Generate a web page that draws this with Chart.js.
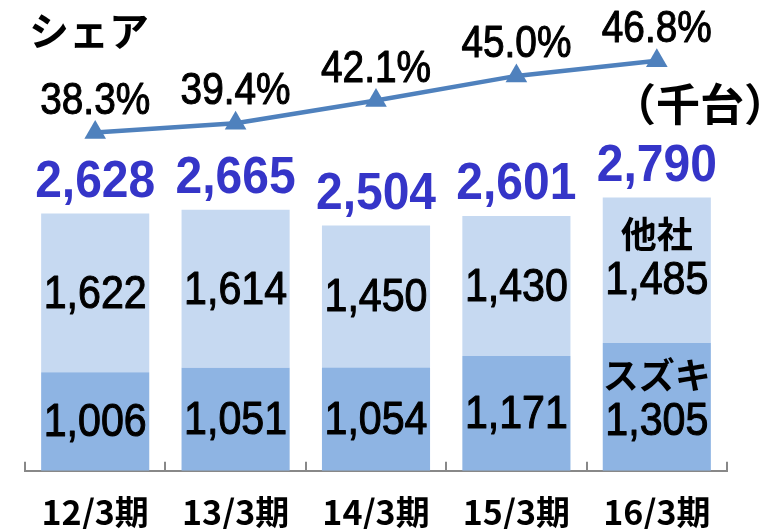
<!DOCTYPE html>
<html>
<head>
<meta charset="utf-8">
<script src="https://cdn.jsdelivr.net/npm/chart.js@4"></script>
<style>
  html, body { margin: 0; padding: 0; background: #ffffff; }
  #wrap { width: 768px; height: 529px; }
</style>
</head>
<body>
<div id="wrap"><canvas id="c" width="768" height="529"></canvas></div>
<script>
const categories = ['12/3期', '13/3期', '14/3期', '15/3期', '16/3期'];
const suzuki = [1006, 1051, 1054, 1171, 1305];
const others = [1622, 1614, 1450, 1430, 1485];
const totals = [2628, 2665, 2504, 2601, 2790];
const share = [38.3, 39.4, 42.1, 45.0, 46.8];
const seriesNames = ['スズキ', '他社'];

const NUM_FONT = '"Liberation Sans", Arial, sans-serif';
const JP_FONT = '"Noto Sans CJK JP", sans-serif';

function tallText(ctx, text, x, y, sx, sy, strokeW) {
  ctx.save();
  ctx.translate(x, y);
  ctx.scale(sx, sy);
  if (strokeW) {
    ctx.lineWidth = strokeW;
    ctx.strokeStyle = ctx.fillStyle;
    ctx.lineJoin = 'round';
    ctx.strokeText(text, 0, 0);
  }
  ctx.fillText(text, 0, 0);
  ctx.restore();
}

const labelPlugin = {
  id: 'labels',
  afterDatasetsDraw(chart) {
    const ctx = chart.ctx;
    ctx.save();
    ctx.textAlign = 'center';
    ctx.textBaseline = 'middle';
    const lastIdx = categories.length - 1;
    [0, 1].forEach(di => {
      const meta = chart.getDatasetMeta(di);
      const vals = di === 0 ? suzuki : others;
      meta.data.forEach((el, i) => {
        const cy = (el.y + el.base) / 2;
        ctx.fillStyle = '#000000';
        ctx.font = '42px ' + NUM_FONT;
        if (i === lastIdx) {
          const vy = cy + (di === 0 ? 15 : 11);
          tallText(ctx, vals[i].toLocaleString('en-US'), el.x, vy, 0.98, 1.1, 1);
          ctx.font = 'bold 36px ' + JP_FONT;
          ctx.fillText(seriesNames[di], el.x, vy - 47);
        } else {
          tallText(ctx, vals[i].toLocaleString('en-US'), el.x, cy + 2, 0.98, 1.1, 1);
        }
      });
    });
    const topMeta = chart.getDatasetMeta(1);
    ctx.fillStyle = '#3535C8';
    ctx.font = 'bold 48px ' + NUM_FONT;
    topMeta.data.forEach((el, i) => {
      tallText(ctx, totals[i].toLocaleString('en-US'), el.x, el.y - 31, 1.0, 1.07, 0);
    });
    const lineMeta = chart.getDatasetMeta(2);
    ctx.fillStyle = '#000000';
    ctx.font = '40px ' + NUM_FONT;
    lineMeta.data.forEach((el, i) => {
      tallText(ctx, share[i].toFixed(1) + '%', el.x, el.y - 31, 0.97, 1.1, 1);
    });
    ctx.font = 'bold 40px ' + JP_FONT;
    ctx.textAlign = 'left';
    ctx.fillText('シェア', 29, 31);
    ctx.textAlign = 'center';
    ctx.font = 'bold 44px ' + JP_FONT;
    ctx.fillText('（千台）', 700, 104);
    ctx.restore();
  }
};

new Chart(document.getElementById('c'), {
  type: 'bar',
  data: {
    labels: categories,
    datasets: [
      {
        label: seriesNames[0],
        data: suzuki,
        backgroundColor: '#8EB4E3',
        borderWidth: 0,
        yAxisID: 'y',
        order: 2
      },
      {
        label: seriesNames[1],
        data: others,
        backgroundColor: '#C6D9F1',
        borderWidth: 0,
        yAxisID: 'y',
        order: 2
      },
      {
        type: 'line',
        label: 'シェア',
        data: share,
        yAxisID: 'y2',
        borderColor: '#4F81BD',
        backgroundColor: '#4F81BD',
        borderWidth: 4.5,
        pointStyle: 'triangle',
        pointRadius: 12.5,
        pointBorderWidth: 0,
        pointBackgroundColor: '#4F81BD',
        tension: 0,
        clip: false,
        order: 0
      }
    ]
  },
  options: {
    responsive: false,
    animation: false,
    devicePixelRatio: 1,
    layout: { padding: { left: 25, right: 41, top: 10, bottom: 0 } },
    plugins: {
      legend: { display: false },
      tooltip: { enabled: false },
      title: { display: false }
    },
    datasets: {
      bar: { categoryPercentage: 1.0, barPercentage: 0.77 }
    },
    scales: {
      x: {
        stacked: true,
        offset: true,
        border: { display: true, color: '#888888', width: 2 },
        grid: {
          display: true,
          offset: true,
          drawOnChartArea: false,
          drawTicks: true,
          tickLength: -9,
          color: '#888888',
          lineWidth: 2
        },
        ticks: {
          color: '#000000',
          font: { family: JP_FONT, size: 34, weight: 'bold' },
          padding: 30,
          maxRotation: 0,
          autoSkip: false
        },
        afterFit(scale) { scale.height = 58.3; }
      },
      y: {
        stacked: true,
        display: false,
        min: 0,
        max: 4680
      },
      y2: {
        display: false,
        position: 'right',
        min: -1.7,
        max: 52.5
      }
    }
  },
  plugins: [labelPlugin]
});
</script>
</body>
</html>
